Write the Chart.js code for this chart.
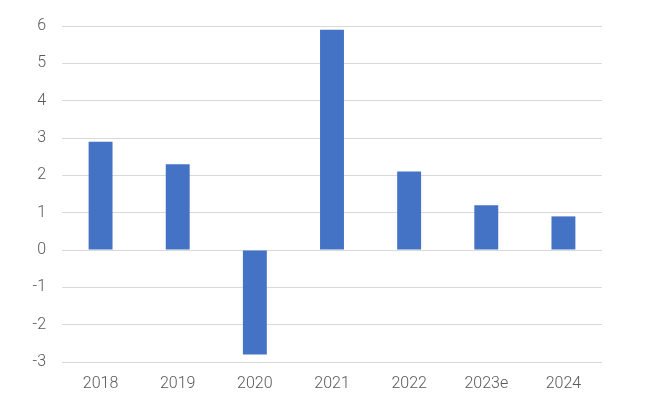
<!DOCTYPE html>
<html><head><meta charset="utf-8">
<script src="https://cdn.jsdelivr.net/npm/chart.js@4/dist/chart.umd.min.js"></script>
<style>html,body{margin:0;padding:0;background:#fff}#wrap{width:659px;height:407px}</style>
</head><body><div id="wrap"><canvas id="c" width="659" height="407"></canvas></div>
<script>
const categories = ["2018","2019","2020","2021","2022","2023e","2024"];
const values = [2.9, 2.3, -2.8, 5.9, 2.1, 1.2, 0.9];
const yTicks = [-3,-2,-1,0,1,2,3,4,5,6];

new Chart(document.getElementById('c'), {
  type: 'bar',
  data: { labels: categories, datasets: [{ data: values, backgroundColor: '#4472C4', borderWidth: 0, barPercentage: 0.62, categoryPercentage: 0.5 }] },
  options: {
    responsive: false, animation: false,
    layout: { padding: { left: 0, right: 57, top: 26, bottom: 0 } },
    plugins: { legend: { display: false }, tooltip: { enabled: false } },
    scales: {
      x: {
        grid: { display: false, drawTicks: false },
        border: { display: false },
        ticks: { color: '#595959', font: { family: 'Roboto', size: 16, weight: 300 }, padding: 12 },
        afterFit: s => { s.height = 45; }
      },
      y: {
        min: -3, max: 6,
        afterBuildTicks: s => { s.ticks = yTicks.map(v => ({ value: v })); },
        grid: { color: '#d9d9d9', lineWidth: 1, drawTicks: false },
        border: { display: false },
        ticks: { color: '#595959', font: { family: 'Roboto', size: 16, weight: 300 }, padding: 16 },
        afterFit: s => { s.width = 62; }
      }
    }
  }
});
</script></body></html>
